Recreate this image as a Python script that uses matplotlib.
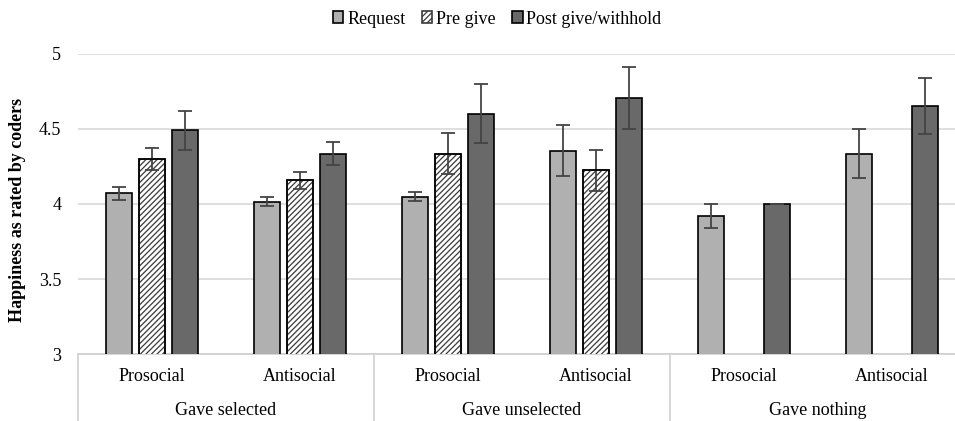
import numpy as np
import matplotlib.pyplot as plt
from matplotlib.transforms import blended_transform_factory

plt.rcParams['font.family'] = ['Liberation Serif', 'DejaVu Serif']
plt.rcParams['hatch.linewidth'] = 0.9

# data
conditions = ['Prosocial', 'Antisocial'] * 3
groups = ['Gave selected', 'Gave unselected', 'Gave nothing']
series = ['Request', 'Pre give', 'Post give/withhold']

request = [4.07, 4.015, 4.048, 4.355, 3.92, 4.335]
request_err = [0.045, 0.03, 0.03, 0.167, 0.082, 0.16]
pre_give = [4.30, 4.157, 4.335, 4.223, np.nan, np.nan]
pre_give_err = [0.075, 0.055, 0.135, 0.138, np.nan, np.nan]
post_give = [4.49, 4.335, 4.60, 4.704, 4.0, 4.65]
post_give_err = [0.13, 0.077, 0.195, 0.204, 0.0, 0.185]

fig = plt.figure(figsize=(9.55, 4.21), dpi=100)
ax = fig.add_axes([78 / 955, 66.7 / 421, 888 / 955, 300.8 / 421])

x = np.arange(len(conditions))
w = 0.176
off = 0.223
err_kw = dict(ecolor='#444444', elinewidth=1.3, capsize=5, capthick=1.3)

b1 = ax.bar(x - off, request, w, color='#b0b0b0', edgecolor='black', linewidth=1.2,
            yerr=request_err, error_kw=err_kw, label=series[0], zorder=3)
b2 = ax.bar(x, pre_give, w, color='white', edgecolor='#3a3a3a', linewidth=1.2, hatch='//////',
            yerr=pre_give_err, error_kw=err_kw, label=series[1], zorder=3)
ax.bar(x, pre_give, w, color='none', edgecolor='black', linewidth=1.2, zorder=3.5)
b3 = ax.bar(x + off, post_give, w, color='#696969', edgecolor='black', linewidth=1.2,
            yerr=post_give_err, error_kw=err_kw, label=series[2], zorder=3)

ax.set_xlim(-0.5, len(conditions) - 0.5)
ax.set_ylim(3, 5)
ax.set_yticks([3, 3.5, 4, 4.5, 5])
ax.set_yticklabels(['3', '3.5', '4', '4.5', '5'], fontsize=13)
ax.yaxis.grid(True, color='#d9d9d9', linewidth=1.2, zorder=0)
ax.set_axisbelow(True)
ax.tick_params(axis='y', length=0, pad=12)
ax.set_xticks([])
for s in ['top', 'right', 'left']:
    ax.spines[s].set_visible(False)
ax.spines['bottom'].set_color('#d0d0d0')
ax.spines['bottom'].set_linewidth(1.2)

# two-level category axis
tr = blended_transform_factory(ax.transData, ax.transAxes)
for xv in [-0.5, 1.5, 3.5, 5.5]:
    ax.plot([xv, xv], [0, -0.25], transform=tr, color='#d0d0d0', linewidth=1.2, clip_on=False)
for xi, name in zip(x, conditions):
    ax.text(xi, -22.5 / 300.8, name, transform=tr, ha='center', va='center', fontsize=13)
for gi, name in enumerate(groups):
    ax.text(2 * gi + 0.5, -56 / 300.8, name, transform=tr, ha='center', va='center', fontsize=13)

fig.text(18 / 955, 1 - 210 / 421, 'Happiness as rated by coders', rotation=90,
         ha='center', va='center', fontsize=13, fontweight='bold')

fig.legend(handles=[b1, b2, b3], loc='center', bbox_to_anchor=(497 / 955, 1 - 19 / 421),
           ncol=3, frameon=False, fontsize=13, handlelength=0.6, handleheight=0.6,
           handletextpad=0.2, columnspacing=0.9)

fig.savefig('out.png', dpi=100)
